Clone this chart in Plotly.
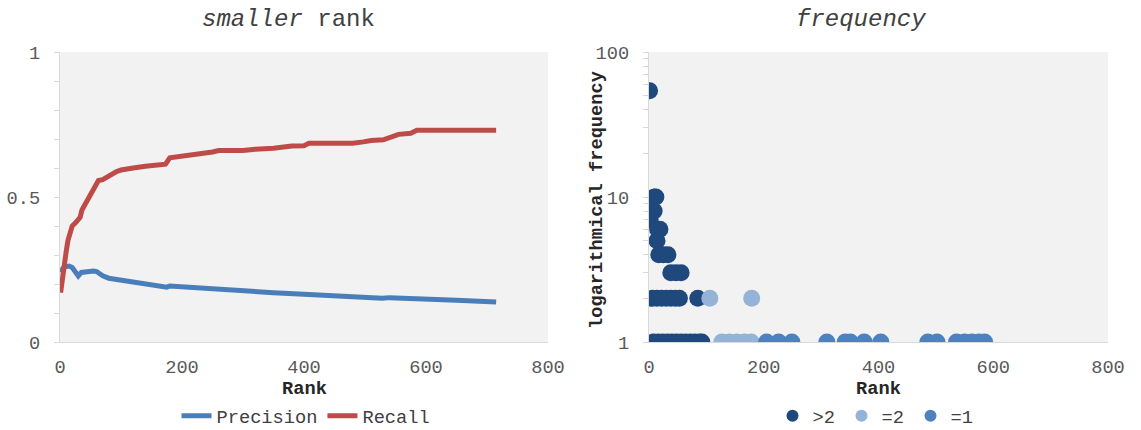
import plotly.graph_objects as go

# ---- data ----
prec_rank = [1, 5, 10, 15, 20, 25, 30, 35, 40, 50, 55, 60, 65, 70, 80, 90, 100, 120, 140, 160,
             175, 180, 200, 250, 300, 350, 400, 450, 500, 528, 540, 560, 600, 650, 715]
precision = [0.24, 0.255, 0.26, 0.262, 0.257, 0.24, 0.228, 0.24, 0.242, 0.242, 0.245, 0.243, 0.235,
             0.228, 0.22, 0.217, 0.212, 0.205, 0.199, 0.194, 0.189, 0.193, 0.19, 0.183, 0.176, 0.17,
             0.165, 0.159, 0.154, 0.151, 0.153, 0.152, 0.148, 0.144, 0.138]

rec_rank = [1, 3, 5, 8, 10, 13, 16, 20, 25, 30, 33, 36, 40, 45, 50, 55, 60, 63, 70, 80, 85, 92, 100,
            110, 120, 140, 160, 173, 180, 200, 220, 230, 250, 260, 300, 320, 350, 380, 400, 408, 450,
            480, 497, 510, 530, 545, 555, 575, 585, 650, 715]
recall = [0.17, 0.21, 0.25, 0.28, 0.31, 0.35, 0.38, 0.40, 0.41, 0.42, 0.43, 0.455, 0.47, 0.49, 0.51,
          0.525, 0.55, 0.557, 0.56, 0.573, 0.578, 0.587, 0.593, 0.598, 0.60, 0.606, 0.61, 0.613, 0.635,
          0.64, 0.645, 0.65, 0.655, 0.66, 0.66, 0.665, 0.668, 0.676, 0.677, 0.685, 0.685, 0.685, 0.69,
          0.695, 0.697, 0.71, 0.716, 0.72, 0.73, 0.73, 0.73]

gt2_rank = [1, 2, 9, 12, 9, 15, 19, 14, 17, 25, 33, 38, 47, 56,
            6, 14, 22, 30, 38, 46, 53, 85,
            8, 16, 24, 32, 40, 48, 56, 64, 72, 80, 88, 92]
gt2_freq = [54, 7, 10, 10, 8, 6, 6, 5, 4, 4, 4, 3, 3, 3,
            2, 2, 2, 2, 2, 2, 2, 2,
            1, 1, 1, 1, 1, 1, 1, 1, 1, 1, 1, 1]

eq2_rank = [106, 179, 127, 140, 153, 166, 178]
eq2_freq = [2, 2, 1, 1, 1, 1, 1]

eq1_rank = [205, 226, 249, 310, 342, 351, 375, 404, 486, 502, 536, 550, 563, 575, 585]
eq1_freq = [1] * 15

x_ticks = [0, 200, 400, 600, 800]
y1_ticks = [0, 0.1, 0.2, 0.3, 0.4, 0.5, 0.6, 0.7, 0.8, 0.9, 1.0]
y1_text = ["0", "", "", "", "", "0.5", "", "", "", "", "1"]
y2_ticks = [1, 2, 3, 4, 5, 6, 7, 8, 9, 10, 20, 30, 40, 50, 60, 70, 80, 90, 100]
y2_text = ["1", "", "", "", "", "", "", "", "", "10", "", "", "", "", "", "", "", "", "100"]

FONT = "Liberation Mono"
W, H = 1141, 430
TICKC = "#595959"
AXC = "#d9d9d9"

fig = go.Figure()

fig.add_trace(go.Scatter(x=prec_rank, y=precision, mode="lines", name="Precision",
                         line=dict(color="#4a7ebb", width=5), xaxis="x", yaxis="y", legend="legend"))
fig.add_trace(go.Scatter(x=rec_rank, y=recall, mode="lines", name="Recall",
                         line=dict(color="#be4b48", width=5), xaxis="x", yaxis="y", legend="legend"))

fig.add_trace(go.Scatter(x=gt2_rank, y=gt2_freq, mode="markers", name=">2",
                         marker=dict(color="#1f497d", size=17, line=dict(width=0)),
                         xaxis="x2", yaxis="y2", legend="legend2"))
fig.add_trace(go.Scatter(x=eq2_rank, y=eq2_freq, mode="markers", name="=2",
                         marker=dict(color="#95b3d7", size=17, line=dict(width=0)),
                         xaxis="x2", yaxis="y2", legend="legend2"))
fig.add_trace(go.Scatter(x=eq1_rank, y=eq1_freq, mode="markers", name="=1",
                         marker=dict(color="#4f81bd", size=17, line=dict(width=0)),
                         xaxis="x2", yaxis="y2", legend="legend2"))

tickfont = dict(family=FONT, size=18.7, color=TICKC)
ydom = [(H - 342) / H, (H - 52) / H]

common_x = dict(range=[0, 800], tickvals=x_ticks, ticks="", showline=True, linecolor=AXC,
                linewidth=1, showgrid=False, zeroline=False, tickfont=tickfont,
                ticklabelstandoff=8, fixedrange=True, automargin=False)

fig.update_layout(
    width=W, height=H,
    margin=dict(l=0, r=0, t=0, b=0, autoexpand=False),
    paper_bgcolor="white",
    plot_bgcolor="#f2f2f2",
    font=dict(family=FONT, color="#404040"),
    xaxis=dict(domain=[60 / W, 548 / W], anchor="y", **common_x),
    yaxis=dict(domain=ydom, anchor="x", range=[0, 1], tickvals=y1_ticks, ticktext=y1_text,
               ticks="outside", ticklen=5, tickcolor=AXC, showline=True, linecolor=AXC,
               showgrid=False, zeroline=False, tickfont=tickfont, ticklabelstandoff=10,
               automargin=False, fixedrange=True),
    xaxis2=dict(domain=[649 / W, 1108 / W], anchor="y2", **common_x),
    yaxis2=dict(domain=ydom, anchor="x2", type="log", range=[0, 2], tickvals=y2_ticks,
                ticktext=y2_text, ticks="outside", ticklen=5, tickcolor=AXC, showline=True,
                linecolor=AXC, showgrid=False, zeroline=False, tickfont=tickfont,
                ticklabelstandoff=10, automargin=False, fixedrange=True),
    legend=dict(orientation="h", x=306 / W, xanchor="center", y=(H - 416) / H, yanchor="middle",
                font=dict(family=FONT, size=18.7, color="#404040"), bgcolor="rgba(0,0,0,0)",
                itemwidth=30, tracegroupgap=0),
    legend2=dict(orientation="h", x=876 / W, xanchor="center", y=(H - 416) / H, yanchor="middle",
                 font=dict(family=FONT, size=18.7, color="#404040"), bgcolor="rgba(0,0,0,0)",
                 itemsizing="constant", itemwidth=30, entrywidth=24, entrywidthmode="pixels"),
    showlegend=True,
)

ann_title = dict(family=FONT, size=24, color="#404040")
ann_axis = dict(family=FONT, size=18.7, color="#262626")
fig.add_annotation(text="<i>smaller</i> rank", x=288 / W, y=(H - 20) / H, xref="paper", yref="paper",
                   showarrow=False, font=ann_title, xanchor="center", yanchor="middle")
fig.add_annotation(text="<i>frequency</i>", x=861 / W, y=(H - 20) / H, xref="paper", yref="paper",
                   showarrow=False, font=ann_title, xanchor="center", yanchor="middle")
fig.add_annotation(text="<b>Rank</b>", x=304 / W, y=(H - 389) / H, xref="paper", yref="paper",
                   showarrow=False, font=ann_axis, xanchor="center", yanchor="middle")
fig.add_annotation(text="<b>Rank</b>", x=878 / W, y=(H - 389) / H, xref="paper", yref="paper",
                   showarrow=False, font=ann_axis, xanchor="center", yanchor="middle")
fig.add_annotation(text="<b>logarithmical frequency</b>", x=597 / W, y=(H - 200) / H,
                   xref="paper", yref="paper", showarrow=False, font=ann_axis, textangle=-90,
                   xanchor="center", yanchor="middle")

fig.write_html("out.html", config={"displayModeBar": False},
               post_script="document.body.style.margin='0';document.body.style.overflow='hidden';")
